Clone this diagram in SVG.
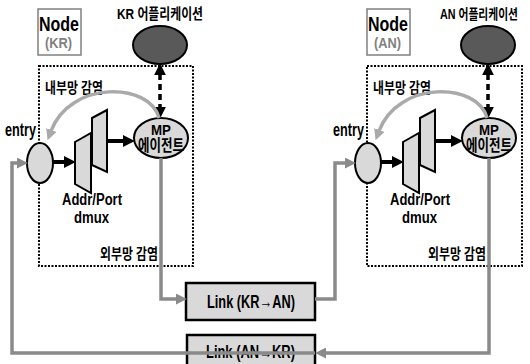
<svg xmlns="http://www.w3.org/2000/svg" width="530" height="364" viewBox="0 0 530 364">
<style>
text{font-family:"Liberation Sans","Noto Sans CJK KR",Arial,sans-serif;font-weight:bold;fill:#000}
.nodebox{fill:#fff;stroke:#808080;stroke-width:1.5}
.dots{fill:none;stroke:#000;stroke-width:2;stroke-dasharray:2 1.5}
.app{fill:#595959;stroke:#000;stroke-width:2}
.light{fill:#d9d9d9;stroke:#000;stroke-width:2}
.blk{fill:none;stroke:#000;stroke-width:4}
.dash{fill:none;stroke:#000;stroke-width:3.5;stroke-dasharray:6 4}
.gry{fill:none;stroke:#8a8a8a;stroke-width:3.5}
.arc{fill:none;stroke:#aaaaaa;stroke-width:3.5}
.link{fill:#d9d9d9;stroke:#000;stroke-width:2.5}
</style>
<defs>
<marker id="ab" markerUnits="userSpaceOnUse" markerWidth="12" markerHeight="12" viewBox="0 0 10 10" refX="1" refY="5" orient="auto-start-reverse"><path d="M0,0 L10,5 L0,10 z" fill="#000"/></marker>
<marker id="ag" markerUnits="userSpaceOnUse" markerWidth="11" markerHeight="11" viewBox="0 0 10 10" refX="1" refY="5" orient="auto"><path d="M0,0 L10,5 L0,10 z" fill="#8a8a8a"/></marker>
<marker id="aa" markerUnits="userSpaceOnUse" markerWidth="11" markerHeight="11" viewBox="0 0 10 10" refX="1" refY="5" orient="auto"><path d="M0,0 L10,5 L0,10 z" fill="#aaaaaa"/></marker>
</defs>

<g id="node-kr">
<rect class="dots" x="39" y="66" width="154" height="200"/>
<rect class="nodebox" x="38" y="9" width="43" height="46"/>
<text x="39" y="31" font-size="20" textLength="40" lengthAdjust="spacingAndGlyphs">Node</text>
<text x="45" y="48" font-size="14" textLength="27" lengthAdjust="spacingAndGlyphs" style="fill:#7f7f7f">(KR)</text>
<text x="117" y="19" font-size="15" textLength="86" lengthAdjust="spacingAndGlyphs">KR 어플리케이션</text>
<ellipse class="app" cx="160" cy="45" rx="27" ry="19"/>
<text x="45" y="93" font-size="15" textLength="58" lengthAdjust="spacingAndGlyphs">내부망 감염</text>
<text x="5" y="136" font-size="18" textLength="31" lengthAdjust="spacingAndGlyphs">entry</text>
<ellipse class="light" cx="40" cy="163" rx="13" ry="20"/>
<polygon class="light" points="75,142 91,133 91,193 75,184"/>
<polygon class="light" points="92,118 107,110 107,172 92,165"/>
<text x="62" y="205" font-size="16" textLength="60" lengthAdjust="spacingAndGlyphs">Addr/Port</text>
<text x="74" y="223" font-size="16" textLength="35" lengthAdjust="spacingAndGlyphs">dmux</text>
<ellipse class="light" cx="161" cy="138" rx="27" ry="20"/>
<text x="161" y="135" font-size="14" text-anchor="middle" textLength="20" lengthAdjust="spacingAndGlyphs">MP</text>
<text x="138" y="151" font-size="16" textLength="46" lengthAdjust="spacingAndGlyphs">에이전트</text>
<text x="100" y="259" font-size="15" textLength="58" lengthAdjust="spacingAndGlyphs">외부망 감염</text>
</g>

<g id="node-an" transform="translate(328,0)">
<rect class="dots" x="39" y="66" width="155" height="200"/>
<rect class="nodebox" x="39" y="9" width="43" height="46"/>
<text x="40" y="31" font-size="20" textLength="40" lengthAdjust="spacingAndGlyphs">Node</text>
<text x="46" y="48" font-size="14" textLength="27" lengthAdjust="spacingAndGlyphs" style="fill:#7f7f7f">(AN)</text>
<text x="190" y="19" font-size="14" text-anchor="end" textLength="78" lengthAdjust="spacingAndGlyphs">AN 어플리케이션</text>
<ellipse class="app" cx="160" cy="45" rx="27" ry="19"/>
<text x="45" y="93" font-size="15" textLength="58" lengthAdjust="spacingAndGlyphs">내부망 감염</text>
<text x="5" y="136" font-size="18" textLength="31" lengthAdjust="spacingAndGlyphs">entry</text>
<ellipse class="light" cx="40" cy="163" rx="13" ry="20"/>
<polygon class="light" points="75,142 91,133 91,193 75,184"/>
<polygon class="light" points="92,118 107,110 107,172 92,165"/>
<text x="62" y="205" font-size="16" textLength="60" lengthAdjust="spacingAndGlyphs">Addr/Port</text>
<text x="74" y="223" font-size="16" textLength="35" lengthAdjust="spacingAndGlyphs">dmux</text>
<ellipse class="light" cx="161" cy="138" rx="27" ry="20"/>
<text x="161" y="135" font-size="14" text-anchor="middle" textLength="20" lengthAdjust="spacingAndGlyphs">MP</text>
<text x="138" y="151" font-size="16" textLength="46" lengthAdjust="spacingAndGlyphs">에이전트</text>
<text x="100" y="259" font-size="15" textLength="58" lengthAdjust="spacingAndGlyphs">외부망 감염</text>
</g>

<g id="link-kr-an">
<rect class="link" x="186" y="283" width="129" height="37"/>
<text x="207" y="308" font-size="19" textLength="88" lengthAdjust="spacingAndGlyphs">Link (KR→AN)</text>
</g>
<g id="link-an-kr">
<rect class="link" x="187" y="335" width="128" height="34"/>
<text x="206" y="358" font-size="18" textLength="89" lengthAdjust="spacingAndGlyphs">Link (AN→KR)</text>
</g>

<g id="connectors">
<path class="blk" d="M53,162 H65" marker-end="url(#ab)"/>
<path class="blk" d="M107,141 H124" marker-end="url(#ab)"/>
<path class="dash" d="M160,74 V108" marker-start="url(#ab)" marker-end="url(#ab)"/>
<path class="arc" d="M159,118 C150,82 70,80 51,131" marker-end="url(#aa)"/>
<path class="gry" d="M161,158 V299 H177" marker-end="url(#ag)"/>
<path class="gry" d="M315,353 H12 V163 H18" marker-end="url(#ag)"/>
<g transform="translate(328,0)">
<path class="blk" d="M53,162 H65" marker-end="url(#ab)"/>
<path class="blk" d="M107,141 H124" marker-end="url(#ab)"/>
<path class="dash" d="M160,74 V108" marker-start="url(#ab)" marker-end="url(#ab)"/>
<path class="arc" d="M159,118 C150,82 70,80 51,131" marker-end="url(#aa)"/>
</g>
<path class="gry" d="M315,299 H335 V163 H346" marker-end="url(#ag)"/>
<path class="gry" d="M489,158 V353 H325" marker-end="url(#ag)"/>
</g>
</svg>
